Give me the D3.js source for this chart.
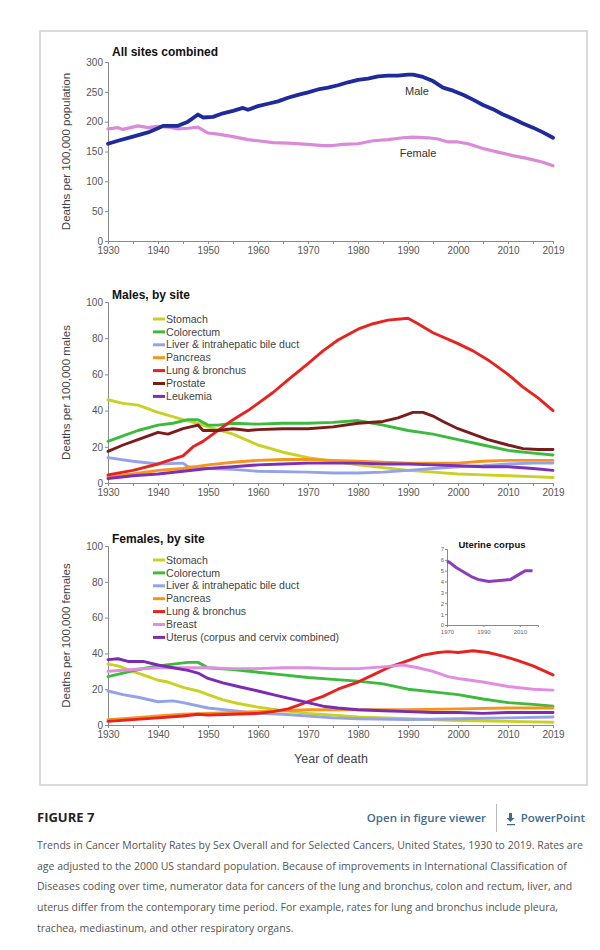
<!DOCTYPE html>
<html>
<head>
<meta charset="utf-8">
<script src="https://cdn.jsdelivr.net/npm/d3@7"></script>
<style>
  body { margin: 0; background: #fff; }
  svg text { font-family: "Liberation Sans", Arial, sans-serif; }
  svg text.cap { font-family: "Open Sans", sans-serif; }
</style>
</head>
<body>
<svg id="chart" width="600" height="950"></svg>
<script>
// ---- data ----
var maleAll = [[1930,163],[1932,168],[1935,175],[1938,182],[1940,189],[1941,193],[1944,193],[1946,200],
  [1948,212],[1949,207],[1951,208],[1953,214],[1955,218],[1957,223],[1958,220],[1960,226],[1962,230],
  [1964,234],[1966,240],[1968,245],[1970,249],[1972,254],[1974,257],[1976,261],[1978,266],[1980,270],
  [1982,272],[1984,276],[1986,277],[1988,277],[1990,279],[1991,279],[1993,275],[1995,268],[1997,257],
  [1999,252],[2001,245],[2003,237],[2005,228],[2007,221],[2009,212],[2011,205],[2013,197],[2015,190],
  [2017,182],[2019,173]];
var femaleAll = [[1930,188],[1932,190],[1933,187],[1936,193],[1938,190],[1940,192],[1942,191],[1944,188],
  [1946,189],[1948,191],[1950,181],[1952,179],[1955,175],[1958,170],[1960,168],[1963,165],[1966,164],
  [1970,162],[1973,160],[1975,160],[1977,162],[1980,163],[1983,168],[1986,170],[1989,173],[1991,174],
  [1994,173],[1996,171],[1998,166],[2000,166],[2002,163],[2005,155],[2008,149],[2011,143],[2014,138],
  [2017,132],[2019,126]];

var mStomach = [[1930,46],[1933,44],[1936,43],[1940,39],[1945,35],[1948,33],[1950,31],[1955,27],[1960,21],
  [1965,17],[1970,14],[1975,12],[1980,10],[1985,8.5],[1990,7],[1995,6],[2000,5],[2005,4.5],[2010,4],[2015,3.5],[2019,3]];
var mColorectum = [[1930,23],[1933,26],[1936,29],[1940,32],[1943,33],[1946,35],[1948,35],[1950,32],[1952,32],
  [1955,33],[1960,32.5],[1965,33],[1970,33],[1975,33.5],[1980,34.5],[1983,33],[1985,32],[1990,29],[1995,27],
  [2000,24],[2005,21],[2010,18],[2015,16.5],[2019,15.5]];
var mLiver = [[1930,14],[1935,12],[1940,10.5],[1945,11],[1946,9],[1950,8],[1955,7.5],[1960,6.5],[1970,6],
  [1975,5.5],[1980,5.5],[1985,6],[1990,7],[1995,8],[2000,9],[2005,9.5],[2010,10.5],[2015,11],[2019,11]];
var mPancreas = [[1930,3.5],[1935,5],[1940,7],[1945,8],[1950,10],[1955,11.5],[1960,12.5],[1965,13],[1970,13],
  [1975,12.5],[1980,12],[1985,11.5],[1990,11],[1995,11],[2000,11],[2005,12],[2010,12.5],[2015,12.5],[2019,12.5]];
var mLung = [[1930,4.5],[1935,7],[1940,10.5],[1945,15],[1947,20],[1949,23],[1951,27],[1955,35],[1958,40],
  [1960,44],[1963,50],[1966,57],[1970,66],[1973,73],[1976,79],[1980,85],[1983,88],[1986,90],[1990,91],
  [1992,88],[1995,83],[2000,77],[2003,73],[2006,68],[2010,60],[2013,53],[2016,47],[2019,40]];
var mProstate = [[1930,17.5],[1933,21],[1936,24],[1940,28],[1942,27],[1945,30],[1948,32],[1949,29],[1952,29],
  [1955,30],[1958,29],[1960,29.5],[1965,30],[1970,30],[1975,31],[1980,33],[1985,34],[1988,36],[1991,39],
  [1993,39],[1995,37],[1997,34],[2000,30],[2003,27],[2006,24],[2010,21],[2013,19],[2016,18.5],[2019,18.5]];
var mLeukemia = [[1930,2.5],[1935,4],[1940,5],[1945,6.5],[1950,8],[1955,9],[1960,10],[1965,10.5],[1970,11],
  [1975,11],[1980,11],[1985,10.5],[1990,10.5],[1995,10],[2000,9.5],[2005,9],[2010,9],[2015,8],[2019,7]];

var fStomach = [[1930,34],[1932,33],[1935,30],[1938,27],[1940,25],[1942,24],[1945,21],[1948,19],[1950,17],
  [1953,14],[1956,12],[1960,10],[1965,8],[1970,6.5],[1975,5.5],[1980,4.5],[1990,3.5],[2000,2.5],[2010,2],[2019,1.5]];
var fColorectum = [[1930,27],[1933,29],[1936,31],[1940,33],[1943,34],[1946,35],[1948,35],[1950,32],[1955,31],
  [1960,29.5],[1965,28],[1970,26.5],[1975,25.5],[1980,24.5],[1985,23],[1990,20],[1995,18.5],[2000,17],
  [2005,14.5],[2010,12.5],[2015,11.5],[2019,10.5]];
var fLiver = [[1930,19],[1933,17],[1936,15.5],[1940,13],[1943,13.5],[1945,12.5],[1950,9.5],[1955,8],[1960,6.5],
  [1965,6],[1970,5],[1975,4],[1980,3.5],[1990,3],[2000,3.5],[2010,4],[2019,4.5]];
var fPancreas = [[1930,3],[1935,4],[1940,5],[1945,6],[1950,6.5],[1955,7],[1960,7.5],[1965,8],[1970,8.5],
  [1975,8.5],[1980,8.5],[1990,8.5],[2000,9],[2010,9.5],[2019,9.5]];
var fLung = [[1930,2],[1935,3],[1940,4],[1945,5],[1948,6],[1950,5.5],[1955,6],[1960,6.5],[1963,7.5],[1966,9],
  [1968,11],[1970,13],[1973,16],[1976,20],[1980,24],[1983,28],[1986,32],[1990,36],[1993,39],[1996,40.5],
  [1998,41],[2000,40.5],[2003,41.5],[2006,40.5],[2009,38.5],[2012,36],[2015,33],[2019,28]];
var fBreast = [[1930,30],[1935,31],[1940,32],[1945,32],[1950,32],[1955,31.5],[1960,31.5],[1965,32],[1970,32],
  [1975,31.5],[1980,31.5],[1985,32.5],[1989,33.5],[1992,32],[1995,30],[1998,27],[2000,26],[2005,24],
  [2010,21.5],[2015,20],[2019,19.5]];
var fUterus = [[1930,36.5],[1932,37],[1934,35.5],[1937,35.5],[1940,33.5],[1943,32],[1946,30.5],[1948,29],
  [1950,26],[1953,23.5],[1956,21.5],[1960,19],[1963,17],[1966,15],[1970,12.5],[1973,10.5],[1976,9.5],
  [1980,8.5],[1985,8],[1990,7.5],[1995,7],[2000,7],[2005,6.5],[2010,7],[2015,7],[2019,7]];

var uterineCorpus = [[1970,5.9],[1972,5.7],[1975,5.3],[1978,5.0],[1981,4.7],[1984,4.4],[1987,4.2],[1990,4.1],
  [1993,4.0],[1996,4.05],[1999,4.1],[2002,4.15],[2005,4.2],[2008,4.5],[2011,4.8],[2013,5.0],[2017,5.0]];

var maleLabels = ['Stomach','Colorectum','Liver & intrahepatic bile duct','Pancreas','Lung & bronchus','Prostate','Leukemia'];
var maleColors = ['#c9d125','#3dba3d','#94a3e8','#f7941d','#e8231f','#7a1c1c','#7d30b5'];
var femaleLabels = ['Stomach','Colorectum','Liver & intrahepatic bile duct','Pancreas','Lung & bronchus','Breast','Uterus (corpus and cervix combined)'];
var femaleColors = ['#c9d125','#3dba3d','#94a3e8','#f7941d','#e8231f','#e08fe0','#7a2db3'];

var xTicks = [1930,1940,1950,1960,1970,1980,1990,2000,2010,2019];
var xMinor = [1935,1945,1955,1965,1975,1985,1995,2005,2015];

var svg = d3.select('#chart');

// frame
svg.append('rect').attr('x', 40).attr('y', 31).attr('width', 547).attr('height', 754)
    .attr('fill', 'none').attr('stroke', '#cfcfcf').attr('stroke-width', 1.5);

var x = d3.scaleLinear().domain([1930, 2019]).range([108, 553]);

function axes(g, y, yTicks, yTitle) {
    var bottom = y.range()[0];
    g.append('g').attr('transform', 'translate(0,' + bottom + ')')
        .call(d3.axisBottom(x).tickValues(xMinor).tickSize(3).tickFormat(''));
    g.append('g').attr('transform', 'translate(0,' + bottom + ')')
        .call(d3.axisBottom(x).tickValues(xTicks).tickSize(3).tickPadding(3).tickFormat(d3.format('d')));
    g.append('g').attr('transform', 'translate(108,0)')
        .call(d3.axisLeft(y).tickValues(yTicks).tickSize(3).tickPadding(2));
    g.selectAll('.domain, .tick line').attr('stroke', '#8a8a8a');
    g.selectAll('.tick text').attr('fill', '#555').style('font-size', '10px');
    var mid = (y.range()[0] + y.range()[1]) / 2;
    g.append('text').attr('transform', 'translate(70,' + mid + ') rotate(-90)')
        .attr('text-anchor', 'middle').attr('fill', '#444').style('font-size', '11.5px').text(yTitle);
}

function lines(g, y, series, colors, width) {
    var line = d3.line().x(function(d) { return x(d[0]); }).y(function(d) { return y(d[1]); });
    series.forEach(function(s, i) {
        g.append('path').datum(s).attr('d', line).attr('fill', 'none')
            .attr('stroke', colors[i]).attr('stroke-width', width)
            .attr('stroke-linejoin', 'round').attr('stroke-linecap', 'round');
    });
}

function legend(g, top, labels, colors) {
    labels.forEach(function(l, i) {
        var yy = top + i * 12.9;
        g.append('line').attr('x1', 153).attr('x2', 165).attr('y1', yy).attr('y2', yy)
            .attr('stroke', colors[i]).attr('stroke-width', 3);
        g.append('text').attr('x', 166).attr('y', yy + 3.6).attr('fill', '#444')
            .style('font-size', '10.6px').text(l);
    });
}

function title(g, ty, t) {
    g.append('text').attr('x', 112).attr('y', ty).attr('font-weight', 'bold')
        .style('font-size', '12px').attr('fill', '#111').text(t);
}

// ---- panel 1: all sites ----
var g1 = svg.append('g');
var y1 = d3.scaleLinear().domain([0, 300]).range([241, 62]);
axes(g1, y1, d3.range(0, 301, 50), 'Deaths per 100,000 population');
title(g1, 56, 'All sites combined');
lines(g1, y1, [femaleAll], ['#d98ad9'], 3.2);
lines(g1, y1, [maleAll], ['#1f2a9c'], 3.8);
g1.append('text').attr('x', 417).attr('y', 95).attr('text-anchor', 'middle').attr('fill', '#333')
    .style('font-size', '11px').text('Male');
g1.append('text').attr('x', 418).attr('y', 157).attr('text-anchor', 'middle').attr('fill', '#333')
    .style('font-size', '11px').text('Female');

// ---- panel 2: males by site ----
var g2 = svg.append('g');
var y2 = d3.scaleLinear().domain([0, 100]).range([483, 302]);
axes(g2, y2, d3.range(0, 101, 20), 'Deaths per 100,000 males');
title(g2, 299, 'Males, by site');
lines(g2, y2, [mStomach, mColorectum, mLiver, mPancreas, mLung, mProstate, mLeukemia], maleColors, 2.9);
legend(g2, 319, maleLabels, maleColors);

// ---- panel 3: females by site ----
var g3 = svg.append('g');
var y3 = d3.scaleLinear().domain([0, 100]).range([725, 546]);
axes(g3, y3, d3.range(0, 101, 20), 'Deaths per 100,000 females');
title(g3, 543, 'Females, by site');
lines(g3, y3, [fStomach, fColorectum, fLiver, fPancreas, fLung, fBreast, fUterus], femaleColors, 2.9);
legend(g3, 560, femaleLabels, femaleColors);
g3.append('text').attr('x', 331).attr('y', 763).attr('text-anchor', 'middle').attr('fill', '#444')
    .style('font-size', '12.5px').text('Year of death');

// inset
var gi = svg.append('g');
var xi = d3.scaleLinear().domain([1970, 2020]).range([447, 538]);
var yi = d3.scaleLinear().domain([0, 7]).range([625, 549]);
gi.append('g').attr('transform', 'translate(0,625)')
    .call(d3.axisBottom(xi).tickValues([1970, 1990, 2010]).tickSize(2).tickPadding(2.5).tickFormat(d3.format('d')));
gi.append('g').attr('transform', 'translate(447,0)')
    .call(d3.axisLeft(yi).tickValues(d3.range(0, 8)).tickSize(2).tickPadding(1).tickFormat(d3.format('d')));
gi.selectAll('.domain, .tick line').attr('stroke', '#8a8a8a');
gi.selectAll('.tick text').attr('fill', '#666').style('font-size', '6px');
gi.append('path').datum(uterineCorpus)
    .attr('d', d3.line().x(function(d) { return xi(d[0]); }).y(function(d) { return yi(d[1]); }))
    .attr('fill', 'none').attr('stroke', '#8e3cbd').attr('stroke-width', 3).attr('stroke-linejoin', 'round');
gi.append('text').attr('x', 492).attr('y', 548).attr('text-anchor', 'middle').attr('font-weight', 'bold')
    .style('font-size', '9.5px').attr('fill', '#111').text('Uterine corpus');

// ---- caption ----
var cap = svg.append('g');
cap.append('text').attr('class', 'cap').attr('x', 37).attr('y', 822).attr('font-weight', 'bold')
    .style('font-size', '13px').attr('fill', '#222').text('FIGURE 7');
cap.append('text').attr('class', 'cap').attr('x', 486).attr('y', 822).attr('text-anchor', 'end')
    .attr('font-weight', 600).style('font-size', '11.5px').attr('fill', '#3f6b8e').text('Open in figure viewer');
cap.append('line').attr('x1', 496.5).attr('x2', 496.5).attr('y1', 804).attr('y2', 832)
    .attr('stroke', '#bbb').attr('stroke-width', 1);
cap.append('path').attr('d', 'M509,813 v5 h-2.5 l4,4 l4,-4 h-2.5 v-5 z M507,824 h8 v1.3 h-8 z')
    .attr('fill', '#3f6b8e');
cap.append('text').attr('class', 'cap').attr('x', 585).attr('y', 822).attr('text-anchor', 'end')
    .attr('font-weight', 600).style('font-size', '11.5px').attr('fill', '#3f6b8e').text('PowerPoint');

var captionLines = [
    'Trends in Cancer Mortality Rates by Sex Overall and for Selected Cancers, United States, 1930 to 2019. Rates are',
    'age adjusted to the 2000 US standard population. Because of improvements in International Classification of',
    'Diseases coding over time, numerator data for cancers of the lung and bronchus, colon and rectum, liver, and',
    'uterus differ from the contemporary time period. For example, rates for lung and bronchus include pleura,',
    'trachea, mediastinum, and other respiratory organs.'
];
captionLines.forEach(function(t, i) {
    cap.append('text').attr('class', 'cap').attr('x', 37).attr('y', 849 + i * 20.7)
        .style('font-size', '10.5px').attr('fill', '#555').text(t);
});
</script>
</body>
</html>
